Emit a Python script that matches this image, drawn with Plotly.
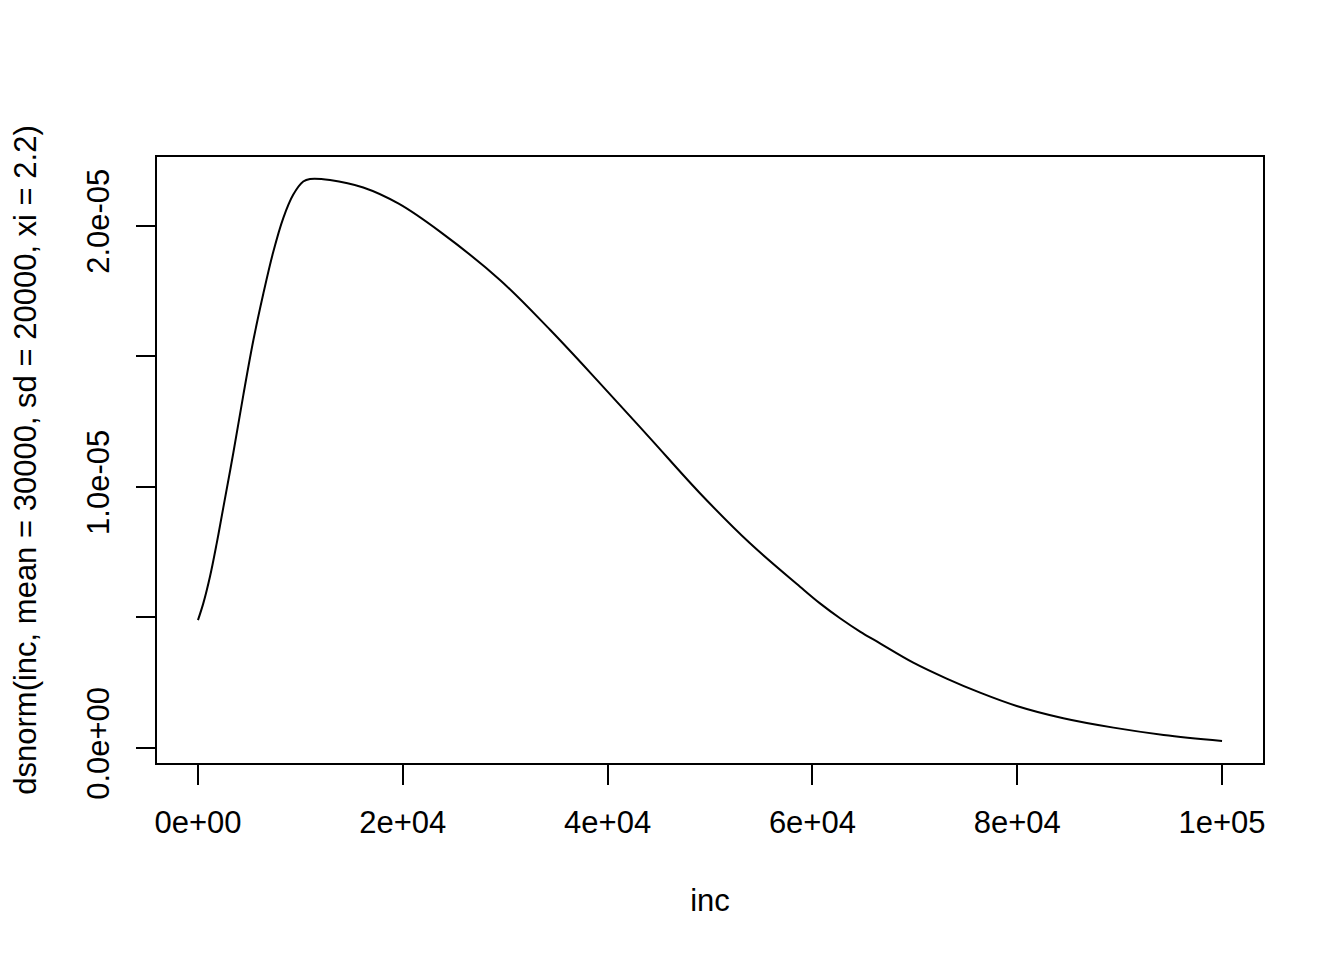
import plotly.graph_objects as go

# Data
inc = [0, 520, 1170, 1830, 2470, 3450, 4420, 5400, 6380, 7350, 8330, 9310,
       10280, 10940, 12890, 16140, 19600, 23630, 29490, 34380, 39260, 44140,
       49020, 53910, 58790, 60740, 62700, 64650, 66600, 69850, 73110, 76370,
       79950, 84500, 89400, 94300, 100000]
density_e6 = [4.90, 5.54, 6.56, 7.84, 9.20, 11.30, 13.50, 15.60, 17.40, 19.00,
              20.30, 21.20, 21.70, 21.80, 21.76, 21.47, 20.85, 19.78, 17.93, 16.02,
              13.97, 11.87, 9.76, 7.84, 6.18, 5.54, 4.97, 4.46, 4.01, 3.27, 2.66,
              2.12, 1.61, 1.14, 0.78, 0.50, 0.27]
density = [v * 1e-6 for v in density_e6]

x_tickvals = [0, 20000, 40000, 60000, 80000, 100000]
x_ticktext = ["0e+00", "2e+04", "4e+04", "6e+04", "8e+04", "1e+05"]
y_tickvals = [0, 0.5e-5, 1.0e-5, 1.5e-5, 2.0e-5]
y_ticktext = ["0.0e+00", "", "1.0e-05", "", "2.0e-05"]

x_title = "inc"
y_title = "dsnorm(inc, mean = 30000, sd = 20000, xi = 2.2)"

FONT = "Liberation Sans, Arial, sans-serif"
FS = 31

fig = go.Figure()
fig.add_trace(go.Scatter(
    x=inc, y=density, mode="lines",
    line=dict(color="black", width=2, shape="spline", smoothing=1.0),
    showlegend=False, hoverinfo="skip",
))

fig.update_layout(
    width=1344, height=960,
    margin=dict(l=149, r=89, t=149, b=205, pad=0),
    paper_bgcolor="white", plot_bgcolor="white",
    font=dict(family=FONT, size=FS, color="black"),
    showlegend=False,
)

fig.update_xaxes(
    range=[-4000, 104000], automargin=False,
    tickmode="array", tickvals=x_tickvals, ticktext=x_ticktext,
    ticks="outside", ticklen=20, tickwidth=2, tickcolor="black",
    ticklabelstandoff=11,
    showline=True, linecolor="black", linewidth=2, mirror=True,
    showgrid=False, zeroline=False,
    tickfont=dict(family=FONT, size=FS, color="black"),
    title=dict(text=x_title, font=dict(family=FONT, size=FS, color="black"), standoff=50),
)
fig.update_yaxes(
    range=[-0.575e-6, 22.64e-6], automargin=False,
    tickmode="array", tickvals=y_tickvals, ticktext=y_ticktext,
    ticks="outside", ticklen=19, tickwidth=2, tickcolor="black",
    tickangle=-90, ticklabelstandoff=15,
    showline=True, linecolor="black", linewidth=2, mirror=True,
    showgrid=False, zeroline=False,
    tickfont=dict(family=FONT, size=FS, color="black"),
    title=dict(text=y_title, font=dict(family=FONT, size=FS, color="black"), standoff=46),
)

fig.write_html("out.html")
